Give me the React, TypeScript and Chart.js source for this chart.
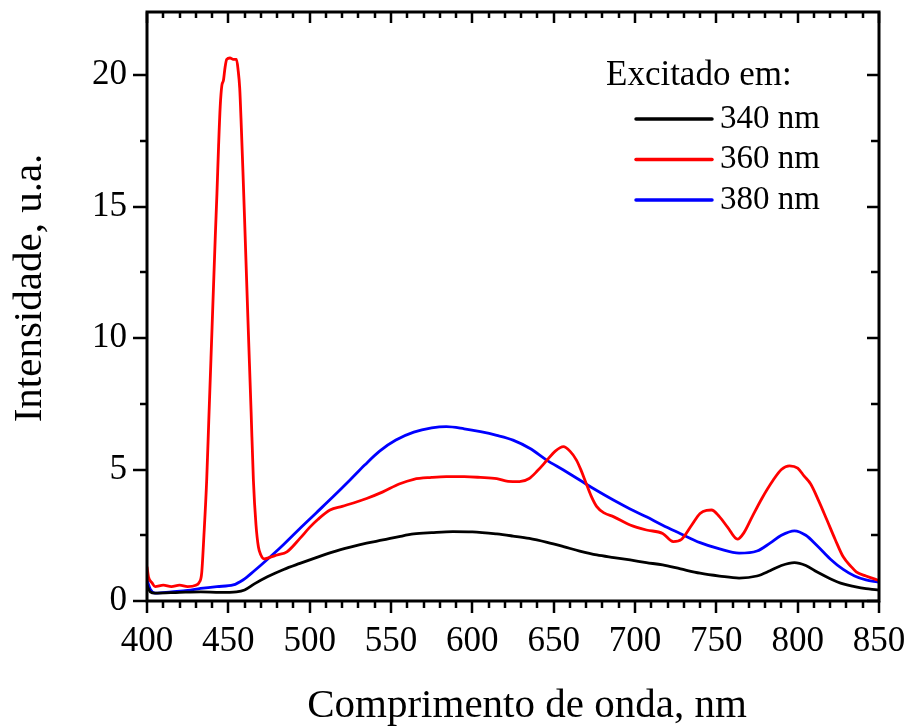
import React, { useEffect, useRef } from 'react';
import { Chart, registerables } from 'chart.js';
Chart.register(...registerables);

// ---- Data (wavelength nm, intensity a.u.) ----
const s340: [number, number][] = [
  [400, 0.6], [402, 0.35], [405, 0.3], [420, 0.33], [433, 0.35], [445, 0.33], [455, 0.35],
  [460, 0.42], [466, 0.65], [474, 0.92], [484, 1.2], [494, 1.43], [504, 1.65], [514.5, 1.87],
  [525, 2.05], [535, 2.2], [545, 2.32], [555, 2.45], [564, 2.55], [575, 2.6], [588, 2.64],
  [600, 2.63], [615, 2.55], [625, 2.47], [635, 2.38], [646, 2.23], [656, 2.07], [666, 1.9],
  [676.5, 1.75], [687, 1.65], [697, 1.56], [707, 1.46], [717, 1.37], [728, 1.22], [740, 1.06],
  [752, 0.95], [764, 0.87], [775, 0.95], [783, 1.15], [790, 1.35], [798, 1.46], [805, 1.35],
  [812, 1.1], [820, 0.85], [828, 0.65], [835, 0.55], [842, 0.47], [849, 0.42], [850, 0.41],
];

const s360: [number, number][] = [
  [400, 1.3], [401, 0.9], [403, 0.7], [405, 0.55], [410, 0.6], [415, 0.55], [420, 0.6],
  [425, 0.55], [430, 0.6], [432, 0.7], [433.6, 1.05], [435, 2.5], [436.7, 4.6], [438, 6.9],
  [440, 10.4], [442, 13.9], [443, 15.5], [444, 17.3], [445, 18.8], [446, 19.6], [447, 19.8],
  [448, 20.3], [449, 20.6], [451, 20.65], [453, 20.6], [455, 20.6], [456, 20.2], [457, 19.5],
  [458, 18.0], [459, 16.3], [460, 14.5], [462, 10.8], [464, 7.2], [465.4, 4.6], [467, 2.9],
  [468.5, 2.05], [470, 1.75], [472, 1.6], [475, 1.65], [480, 1.75], [486, 1.87], [494, 2.38],
  [500, 2.8], [505, 3.1], [512.5, 3.46], [520, 3.6], [535, 3.9], [545, 4.15], [555, 4.45],
  [564, 4.63], [575, 4.7], [584, 4.73], [595, 4.73], [605, 4.7], [615, 4.65], [622, 4.55],
  [629, 4.54], [635, 4.66], [640, 4.95], [646, 5.36], [651, 5.7], [656, 5.87], [660, 5.7],
  [664, 5.36], [667, 4.95], [670, 4.47], [673, 4.0], [676.5, 3.59], [681, 3.35], [687, 3.2],
  [697, 2.89], [707, 2.7], [717, 2.57], [723.5, 2.26], [728.7, 2.35], [735, 2.9], [740, 3.33],
  [744, 3.45], [747, 3.46], [752, 3.2], [757, 2.8], [763, 2.35], [767, 2.6], [772, 3.2],
  [778, 3.9], [785, 4.6], [790, 5.0], [795, 5.14], [800, 5.05], [804, 4.75], [808, 4.45],
  [813, 3.8], [818, 3.08], [823, 2.35], [828, 1.68], [833, 1.3], [836, 1.11], [842, 0.95],
  [849, 0.8], [850, 0.78],
];

const s380: [number, number][] = [
  [400, 0.8], [402, 0.45], [405, 0.3], [415, 0.35], [425, 0.4], [433, 0.48], [443, 0.55],
  [453, 0.61], [459, 0.8], [466, 1.15], [473.6, 1.56], [484, 2.15], [494, 2.76], [504, 3.35],
  [514.5, 3.97], [524.8, 4.6], [534, 5.18], [543, 5.7], [553, 6.12], [564, 6.42], [575, 6.58],
  [584, 6.63], [595, 6.55], [605, 6.44], [615, 6.3], [625, 6.12], [635.5, 5.8], [645.7, 5.36],
  [656, 4.98], [666, 4.6], [676.5, 4.2], [686.7, 3.84], [697, 3.5], [707, 3.2], [717, 2.88],
  [727.7, 2.57], [740, 2.22], [752, 1.98], [764, 1.82], [775, 1.9], [783, 2.2], [790, 2.5],
  [798, 2.67], [805, 2.5], [812, 2.1], [820, 1.6], [828, 1.2], [835, 0.95], [842, 0.8],
  [849, 0.73], [850, 0.72],
];

const seriesLabels = ['340 nm', '360 nm', '380 nm'];
const seriesColors = ['#000000', '#ff0000', '#0000ff'];
const xTicks = [400, 450, 500, 550, 600, 650, 700, 750, 800, 850];
const yTicks = [0, 5, 10, 15, 20];
const xMinorStep = 10;
const yMinorStep = 2.5;
const xMin = 400;
const xMax = 850;
const yMin = 0;
const yMax = 22.4;
const xTitle = 'Comprimento de onda, nm';
const yTitle = 'Intensidade, u.a.';
const legendTitle = 'Excitado em:';

const FONT = "'Liberation Serif', 'Times New Roman', serif";

const framePlugin = {
  id: 'frame',
  afterDraw(chart: any) {
    const { ctx, chartArea: a, scales } = chart;
    const x = scales.x;
    const y = scales.y;
    ctx.save();
    ctx.strokeStyle = '#000';
    ctx.lineCap = 'butt';
    ctx.lineWidth = 2.5;
    const seg = (x1: number, y1: number, x2: number, y2: number) => {
      ctx.beginPath();
      ctx.moveTo(x1, y1);
      ctx.lineTo(x2, y2);
      ctx.stroke();
    };
    for (let v = xMin; v <= xMax + 1e-6; v += xMinorStep) {
      const px = Math.round(x.getPixelForValue(v));
      const major = xTicks.includes(v);
      seg(px, a.bottom, px, a.bottom + (major ? 12 : 7));
      seg(px, a.top, px, a.top + (major ? 11 : 6));
    }
    for (let v = yMin; v <= yMax + 1e-6; v += yMinorStep) {
      const py = Math.round(y.getPixelForValue(v));
      const major = yTicks.includes(v);
      seg(a.left, py, a.left - (major ? 14 : 7), py);
      seg(a.right, py, a.right - (major ? 12 : 8), py);
    }
    ctx.lineWidth = 3;
    ctx.strokeRect(a.left, a.top, a.right - a.left, a.bottom - a.top);

    // axis titles
    ctx.fillStyle = '#000';
    ctx.font = `41px ${FONT}`;
    ctx.textAlign = 'center';
    ctx.textBaseline = 'alphabetic';
    ctx.fillText(xTitle, 527, 717);
    ctx.save();
    ctx.translate(41, 288);
    ctx.rotate(-Math.PI / 2);
    ctx.fillText(yTitle, 0, 0);
    ctx.restore();

    // legend
    ctx.textAlign = 'left';
    ctx.textBaseline = 'middle';
    ctx.font = `35px ${FONT}`;
    ctx.fillText(legendTitle, 606, 76);
    ctx.font = `33px ${FONT}`;
    chart.data.datasets.forEach((ds: any, i: number) => {
      const ly = 119 + i * 40.5;
      ctx.strokeStyle = ds.borderColor;
      ctx.lineWidth = 3.5;
      ctx.lineCap = 'round';
      seg(636, ly, 712, ly);
      ctx.fillText(ds.label, 720, ly);
    });
    ctx.restore();
  },
};

export default function App() {
  const ref = useRef<HTMLCanvasElement | null>(null);
  useEffect(() => {
    document.body.style.margin = '0';
    const canvas = ref.current;
    if (!canvas) return;
    const all = [s340, s360, s380];
    const chart = new Chart(canvas, {
      type: 'line',
      data: {
        datasets: all.map((s, i) => ({
          label: seriesLabels[i],
          data: s.map(([wx, wy]) => ({ x: wx, y: wy })),
          borderColor: seriesColors[i],
          backgroundColor: seriesColors[i],
          borderWidth: 2.8,
          pointRadius: 0,
          cubicInterpolationMode: 'monotone' as const,
          fill: false,
        })),
      },
      options: {
        responsive: false,
        animation: false,
        layout: { padding: { left: 0, top: 12, right: 28, bottom: 0 } },
        plugins: { legend: { display: false }, tooltip: { enabled: false } },
        scales: {
          x: {
            type: 'linear',
            min: xMin,
            max: xMax,
            grid: { display: false, drawTicks: false },
            border: { display: false },
            ticks: { color: '#000', font: { family: FONT, size: 35 }, padding: 20, maxRotation: 0 },
            afterBuildTicks: (scale: any) => {
              scale.ticks = xTicks.map((v) => ({ value: v }));
            },
            afterFit: (scale: any) => {
              scale.height = 125;
              scale.paddingLeft = 0;
              scale.paddingRight = 0;
            },
          },
          y: {
            type: 'linear',
            min: yMin,
            max: yMax,
            grid: { display: false, drawTicks: false },
            border: { display: false },
            ticks: { color: '#000', font: { family: FONT, size: 35 }, padding: 20 },
            afterBuildTicks: (scale: any) => {
              scale.ticks = yTicks.map((v) => ({ value: v }));
            },
            afterFit: (scale: any) => {
              scale.width = 147;
              scale.paddingTop = 0;
              scale.paddingBottom = 0;
            },
          },
        },
      },
      plugins: [framePlugin],
    });
    return () => chart.destroy();
  }, []);
  return (
    <div style={{ width: 907, height: 726, background: '#fff' }}>
      <canvas ref={ref} width={907} height={726} style={{ display: 'block' }} />
    </div>
  );
}
